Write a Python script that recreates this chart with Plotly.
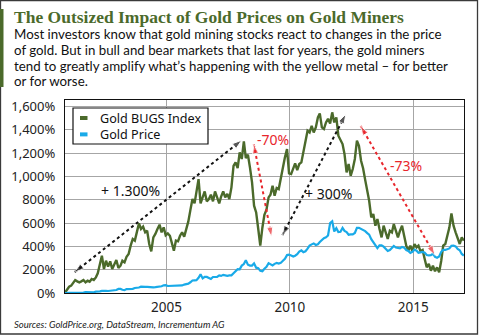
import pandas as pd
import plotly.graph_objects as go

# ---------------- data (percent change since Nov 2000, monthly) ----------------
start_month = "2000-11-01"
bugs_pct = [
    3, 34, 54, 63, 86, 111, 100, 91, 100, 111, 91, 106,
    97, 120, 111, 134, 169, 234, 320, 206, 277, 226, 271, 206,
    249, 283, 214, 234, 277, 263, 311, 334, 406, 463, 449, 534,
    597, 549, 569, 520, 534, 420, 357, 477, 506, 549, 586, 520,
    563, 495, 511, 491, 420, 363, 449, 443, 491, 520, 483, 540,
    614, 711, 806, 769, 863, 977, 769, 820, 871, 786, 806, 843,
    786, 871, 814, 769, 826, 871, 820, 849, 806, 906, 1091, 1120,
    1071, 1206, 1149, 1300, 1157, 1186, 1077, 949, 749, 691, 549, 406,
    560, 670, 715, 820, 843, 920, 834, 900, 891, 991, 1063, 1163,
    1234, 1026, 1020, 1063, 1111, 1054, 1106, 1120, 1206, 1291, 1391, 1377,
    1434, 1377, 1420, 1506, 1540, 1420, 1406, 1463, 1494, 1454, 1549, 1463,
    1506, 1349, 1306, 1277, 1191, 1034, 1106, 1006, 1063, 1149, 1306, 1263,
    1134, 1070, 970, 880, 791, 649, 677, 577, 634, 549, 477, 577,
    506, 463, 534, 520, 591, 534, 477, 534, 577, 491, 406, 363,
    406, 357, 420, 391, 406, 357, 369, 291, 220, 249, 191, 234,
    186, 220, 177, 277, 406, 420, 506, 563, 683, 577, 520, 463,
    420, 477, 449,
]
gold_pct = [
    0, 3,
    1, 1, 1, 0, 3, 2, 1, 3, 7, 7, 4, 4,
    6, 12, 11, 14, 18, 21, 18, 17, 20, 20, 20, 26,
    35, 35, 28, 24, 34, 34, 32, 36, 43, 43, 47, 54,
    56, 53, 53, 52, 45, 48, 50, 51, 53, 58, 66, 67,
    60, 60, 64, 62, 59, 62, 60, 65, 72, 77, 80, 92,
    107, 109, 110, 130, 160, 125, 139, 138, 126, 121, 137, 137,
    138, 151, 147, 156, 152, 147, 151, 151, 169, 185, 204, 203,
    235, 248, 280, 243, 235, 235, 254, 217, 213, 190, 187, 208,
    224, 256, 249, 236, 250, 257, 252, 258, 276, 294, 325, 328,
    322, 313, 320, 333, 355, 365, 350, 358, 380, 406, 417, 425,
    412, 418, 437, 456, 470, 477, 493, 600, 615, 528, 556, 523,
    525, 558, 532, 522, 500, 503, 502, 515, 558, 559, 550, 536,
    531, 514, 501, 461, 434, 407, 385, 408, 409, 397, 381, 361,
    369, 391, 404, 390, 386, 383, 395, 389, 368, 361, 344, 353,
    372, 363, 345, 352, 352, 346, 326, 322, 325, 337, 310, 303,
    314, 353, 370, 369, 375, 382, 405, 406, 400, 378, 366, 335,
    320,
]
dates = pd.date_range(start_month, periods=len(bugs_pct), freq="MS") + pd.Timedelta(days=19)

series_names = ["Gold BUGS Index", "Gold Price"]
x_tick_vals = ["2005-01-01", "2010-01-01", "2015-01-01"]
x_tick_text = ["2005", "2010", "2015"]
y_tick_vals = [0, 200, 400, 600, 800, 1000, 1200, 1400, 1600]
y_tick_text = ["0%", "200%", "400%", "600%", "800%", "1,000%", "1,200%", "1,400%", "1,600%"]

# arrow annotations (date, percent) : start -> end
arrow_labels = ["+ 1.300%", "-70%", "+ 300%", "-73%"]
arrow_start_x = ["2001-04-12", "2008-07-16", "2009-09-13", "2012-11-14"]
arrow_start_y = [179, 1276, 496, 1433]
arrow_end_x = ["2008-01-19", "2009-04-05", "2012-04-08", "2015-11-17"]
arrow_end_y = [1310, 482, 1533, 325]

title = "The Outsized Impact of Gold Prices on Gold Miners"
subtitle_lines = [
    "Most investors know that gold mining stocks react to changes in the price",
    "of gold. But in bull and bear markets that last for years, the gold miners",
    "tend to greatly amplify what\u2019s happening with the yellow metal \u2013 for better",
    "or for worse.",
]
source = "Sources: GoldPrice.org, DataStream, Incrementum AG"

# ---------------- styling ----------------
GREEN = "#4b6a2b"
BLUE = "#19aae8"
RED = "#e8262c"
W, H = 480, 335
ML, MR, MT, MB = 65, 16, 100, 42
PW, PH = W - ML - MR, H - MT - MB


def px_x(px):
    return (px - ML) / PW


def px_y(py):
    return (H - MB - py) / PH


SANS = "Noto Sans"

fig = go.Figure()
fig.add_trace(go.Scatter(x=dates, y=bugs_pct, mode="lines", name=series_names[0],
                         line=dict(color=GREEN, width=2.4), showlegend=False, hoverinfo="skip"))
fig.add_trace(go.Scatter(x=dates, y=gold_pct, mode="lines", name=series_names[1],
                         line=dict(color=BLUE, width=2.2), showlegend=False, hoverinfo="skip"))

arrow_colors = ["#111111", RED, "#111111", RED]
for sx, sy, ex, ey, c in zip(arrow_start_x, arrow_start_y, arrow_end_x, arrow_end_y, arrow_colors):
    fig.add_trace(go.Scatter(x=[sx, ex], y=[sy, ey], mode="lines+markers",
                             line=dict(color=c, width=2, dash="dot"),
                             marker=dict(symbol="arrow", angleref="previous", size=[0, 10], color=c),
                             showlegend=False, hoverinfo="skip"))
    fig.add_trace(go.Scatter(x=[ex, sx], y=[ey, sy], mode="markers",
                             marker=dict(symbol="arrow", angleref="previous", size=[0, 10], color=c),
                             showlegend=False, hoverinfo="skip"))

annotations = []
label_pos = [(130, 190), (272.5, 139), (328, 193), (406, 165)]
label_colors = ["#111111", RED, "#111111", RED]
for lab, (lx, ly), c in zip(arrow_labels, label_pos, label_colors):
    annotations.append(dict(text=lab, xref="paper", yref="paper", x=px_x(lx), y=px_y(ly),
                            xanchor="center", yanchor="middle", showarrow=False,
                            font=dict(family=SANS, size=14, color=c)))

annotations.append(dict(text="<b>" + title + "</b>", xref="paper", yref="paper",
                        x=px_x(12), y=px_y(17), xanchor="left", yanchor="middle", showarrow=False,
                        font=dict(family="Liberation Serif", size=17.5, color=GREEN)))
for i, line in enumerate(subtitle_lines):
    annotations.append(dict(text=line, xref="paper", yref="paper",
                            x=px_x(12), y=px_y(34.5 + i * 15.6), xanchor="left", yanchor="middle",
                            showarrow=False, font=dict(family="Lato", size=13.3, color="#111111")))
annotations.append(dict(text="<i>" + source + "</i>", xref="paper", yref="paper",
                        x=px_x(12), y=px_y(324.5), xanchor="left", yanchor="middle", showarrow=False,
                        font=dict(family="Lato", size=9.5, color="#222222")))

# manual legend (one two-line text block)
LEG_FS = 12.6
leg_mid = 126.2
leg_rows = [leg_mid - LEG_FS * 1.3 / 2, leg_mid + LEG_FS * 1.3 / 2]
annotations.append(dict(text="<br>".join(series_names), xref="paper", yref="paper",
                        x=px_x(98), y=px_y(leg_mid), xanchor="left", yanchor="middle", align="left",
                        showarrow=False, font=dict(family=SANS, size=LEG_FS, color="#111111")))

shapes = [
    # outer frame
    dict(type="rect", xref="paper", yref="paper", x0=px_x(0.5), x1=px_x(477.5),
         y0=px_y(334), y1=px_y(0.5), line=dict(color="#3a3a3a", width=1.3)),
    # left accent bar
    dict(type="rect", xref="paper", yref="paper", x0=px_x(0), x1=px_x(3.5),
         y0=px_y(87), y1=px_y(9), line=dict(width=0), fillcolor=GREEN),
    # legend box
    dict(type="rect", xref="paper", yref="paper", x0=px_x(73), x1=px_x(208),
         y0=px_y(144), y1=px_y(108), line=dict(color="#111111", width=1.2), fillcolor="white",
         layer="above"),
]
for ty, c in zip(leg_rows, [GREEN, BLUE]):
    shapes.append(dict(type="rect", xref="paper", yref="paper", x0=px_x(80), x1=px_x(87.5),
                       y0=px_y(ty + 2), y1=px_y(ty - 2), line=dict(width=0), fillcolor=c,
                       layer="above"))

fig.update_layout(
    width=W, height=H,
    margin=dict(l=ML, r=MR, t=MT, b=MB, pad=0),
    paper_bgcolor="white", plot_bgcolor="white",
    showlegend=False,
    annotations=annotations,
    shapes=shapes,
    font=dict(family=SANS, color="#222222"),
)
fig.update_xaxes(
    type="date", range=["2000-11-20", "2017-01-22"],
    tickvals=x_tick_vals, ticktext=x_tick_text,
    tickfont=dict(family=SANS, size=13.5, color="#222222"),
    showgrid=True, gridcolor="#a6a6a6", gridwidth=1,
    showline=True, linecolor="#111111", linewidth=1.3, mirror=True,
    ticks="", zeroline=False, ticklabelstandoff=2,
)
fig.update_yaxes(
    range=[0, 1655], tickvals=y_tick_vals, ticktext=y_tick_text,
    tickfont=dict(family=SANS, size=13, color="#222222"),
    showgrid=True, gridcolor="#a6a6a6", gridwidth=1,
    showline=True, linecolor="#111111", linewidth=1.3, mirror=True,
    ticks="", zeroline=False, ticklabelstandoff=6,
)

fig.write_html("out.html")
